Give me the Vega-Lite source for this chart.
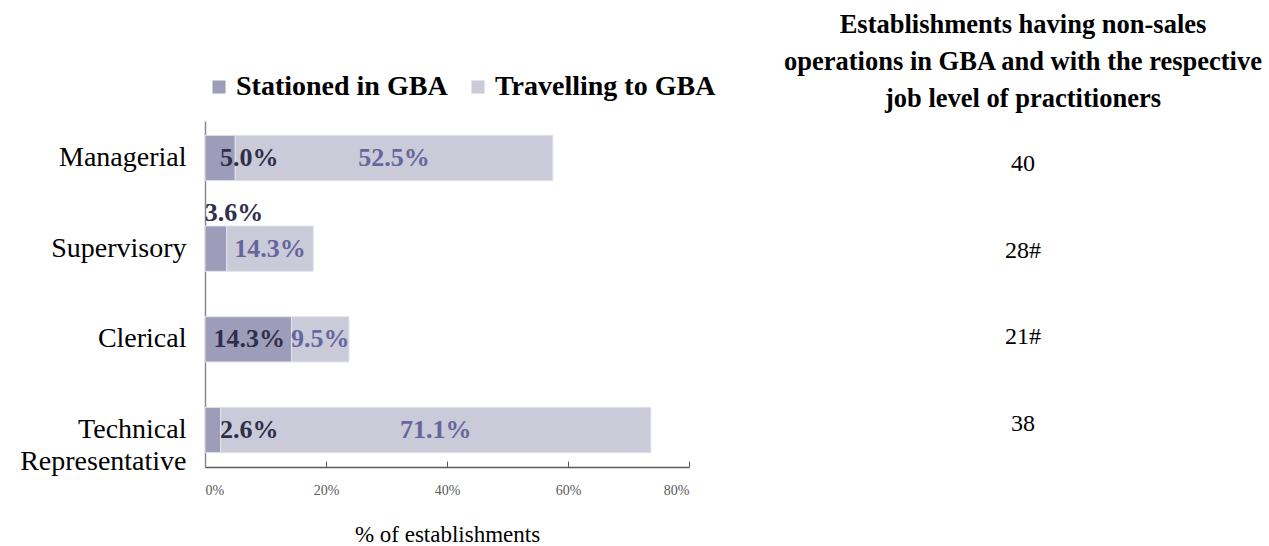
{
  "$schema": "https://vega.github.io/schema/vega-lite/v6.json",
  "padding": {"left": 19, "top": 11, "right": 5, "bottom": 2},
  "bounds": "flush",
  "spacing": 234,
  "resolve": {"legend": {"color": "independent"}},
  "config": {"view": {"stroke": null}, "font": "Liberation Serif"},
  "datasets": {
    "bars": [
      {"job": "Managerial", "type": "Stationed in GBA", "value": 5.0},
      {"job": "Managerial", "type": "Travelling to GBA", "value": 52.5},
      {"job": "Supervisory", "type": "Stationed in GBA", "value": 3.6},
      {"job": "Supervisory", "type": "Travelling to GBA", "value": 14.3},
      {"job": "Clerical", "type": "Stationed in GBA", "value": 14.3},
      {"job": "Clerical", "type": "Travelling to GBA", "value": 9.5},
      {"job": "Technical Representative", "type": "Stationed in GBA", "value": 2.6},
      {"job": "Technical Representative", "type": "Travelling to GBA", "value": 71.1}
    ],
    "counts": [
      {"job": "Managerial", "count": "40"},
      {"job": "Supervisory", "count": "28#"},
      {"job": "Clerical", "count": "21#"},
      {"job": "Technical Representative", "count": "38"}
    ]
  },
  "hconcat": [
    {
      "width": 484,
      "height": 346,
      "data": {"name": "bars"},
      "transform": [
        {"stack": "value", "groupby": ["job"], "sort": [{"field": "type", "order": "ascending"}], "as": ["x0", "x1"]},
        {"calculate": "(datum.x0 + datum.x1) / 2", "as": "mid"},
        {"calculate": "format(datum.value, '.1f') + '%'", "as": "label"}
      ],
      "encoding": {
        "y": {
          "field": "job",
          "type": "nominal",
          "sort": ["Managerial", "Supervisory", "Clerical", "Technical Representative"],
          "scale": {"paddingInner": 0.5, "paddingOuter": 0.158},
          "axis": {
            "title": null,
            "ticks": false,
            "domain": true,
            "domainColor": "#8a8a8a",
            "domainWidth": 1.5,
            "labelFontSize": 28,
            "labelColor": "#000000",
            "labelFont": "Liberation Serif",
            "labelPadding": 19,
            "labelLineHeight": 32,
            "labelLimit": 300,
            "labelExpr": "split(datum.label, ' ')"
          }
        }
      },
      "layer": [
        {
          "mark": {"type": "bar", "stroke": "#e4e4ee", "strokeWidth": 1},
          "encoding": {
            "x": {
              "field": "x0",
              "type": "quantitative",
              "scale": {"domain": [0, 80]},
              "axis": {
                "values": [0, 20, 40, 60, 80],
                "labelExpr": "datum.value + '%'",
                "labelFontSize": 14,
                "labelColor": "#595959",
                "labelFont": "Liberation Serif",
                "grid": false,
                "domainColor": "#595959",
                "domainWidth": 1.5,
                "tickColor": "#595959",
                "tickSize": -6,
                "labelPadding": 22,
                "title": "% of establishments",
                "titleFontSize": 23,
                "titleFontWeight": "normal",
                "titleFont": "Liberation Serif",
                "titleColor": "#000000",
                "titlePadding": 26
              }
            },
            "x2": {"field": "x1"},
            "color": {
              "field": "type",
              "type": "nominal",
              "scale": {"domain": ["Stationed in GBA", "Travelling to GBA"], "range": ["#9d9db9", "#cacad8"]},
              "legend": {
                "orient": "top",
                "direction": "horizontal",
                "title": null,
                "labelFontSize": 28,
                "labelFontWeight": "bold",
                "labelFont": "Liberation Serif",
                "symbolType": "square",
                "symbolSize": 170,
                "symbolStrokeWidth": 0,
                "labelOffset": 3,
                "columnPadding": 16,
                "offset": 20,
                "padding": 0,
                "labelLimit": 400,
                "encode": {
                  "labels": {"update": {"fill": {"signal": "datum.label == 'Stationed in GBA' ? '#33334f' : '#6a6aa3'"}}}
                }
              }
            }
          }
        },
        {
          "transform": [{"filter": "datum.type == 'Travelling to GBA'"}],
          "mark": {"type": "text", "fontSize": 26, "fontWeight": "bold", "font": "Liberation Serif", "color": "#66669f"},
          "encoding": {
            "x": {"field": "mid", "type": "quantitative"},
            "text": {"field": "label"}
          }
        },
        {
          "transform": [{"filter": "datum.type == 'Stationed in GBA' && datum.job != 'Supervisory'"}],
          "mark": {"type": "text", "fontSize": 26, "fontWeight": "bold", "font": "Liberation Serif", "color": "#2f2f4c"},
          "encoding": {
            "x": {"datum": 7.3, "type": "quantitative"},
            "text": {"field": "label"}
          }
        },
        {
          "transform": [{"filter": "datum.type == 'Stationed in GBA' && datum.job == 'Supervisory'"}],
          "mark": {"type": "text", "fontSize": 26, "fontWeight": "bold", "font": "Liberation Serif", "color": "#2f2f4c", "dy": -36},
          "encoding": {
            "x": {"datum": 4.8, "type": "quantitative"},
            "text": {"field": "label"}
          }
        }
      ]
    },
    {
      "width": 200,
      "height": 346,
      "data": {"name": "counts"},
      "title": {
        "text": ["Establishments having non-sales ", "operations in GBA and with the respective", "job level of practitioners"],
        "fontSize": 26.5,
        "fontWeight": "bold",
        "font": "Liberation Serif",
        "color": "#000000",
        "lineHeight": 37,
        "anchor": "middle",
        "offset": 9
      },
      "mark": {"type": "text", "fontSize": 24, "font": "Liberation Serif", "color": "#000000"},
      "encoding": {
        "y": {
          "field": "job",
          "type": "nominal",
          "sort": ["Managerial", "Supervisory", "Clerical", "Technical Representative"],
          "scale": {"paddingInner": 0.5, "paddingOuter": 0.158},
          "axis": null
        },
        "x": {"datum": "count", "type": "nominal", "axis": null},
        "text": {"field": "count"}
      }
    }
  ]
}
